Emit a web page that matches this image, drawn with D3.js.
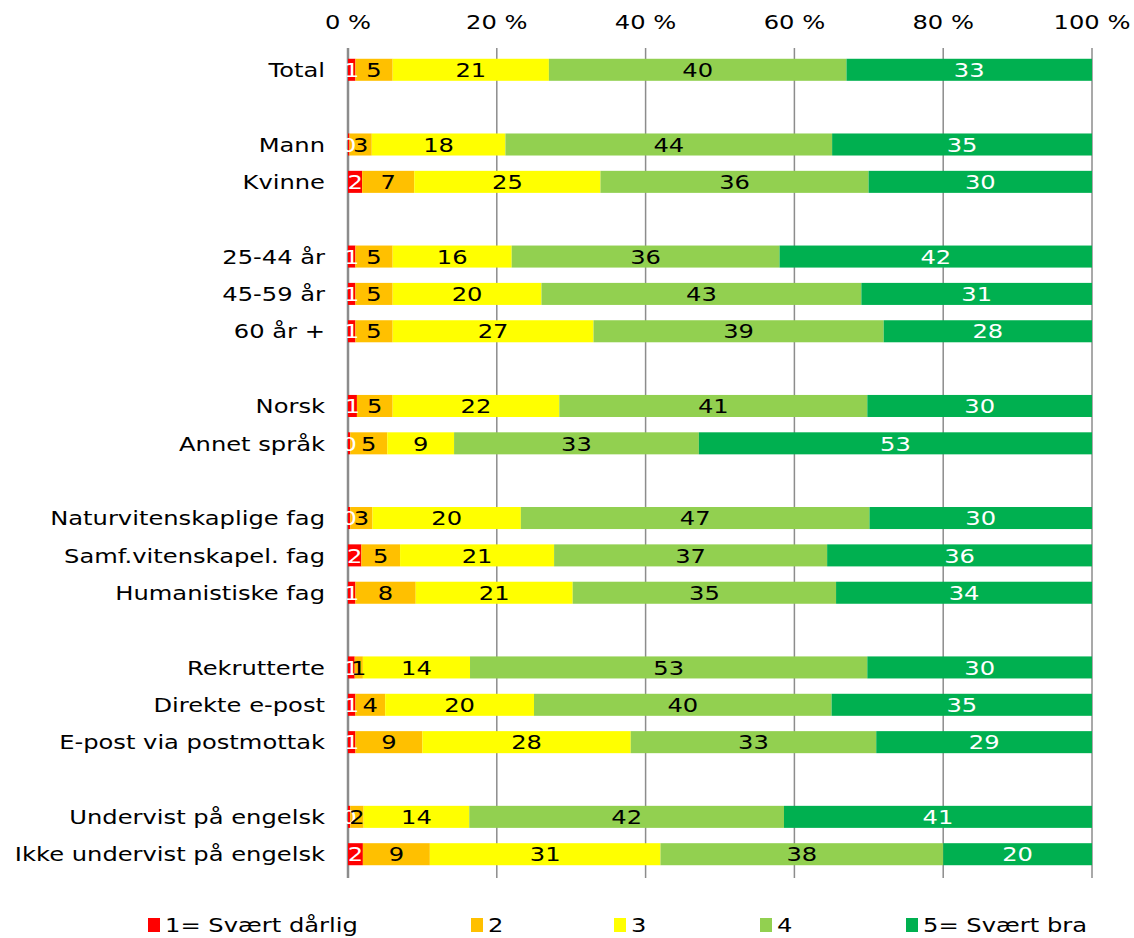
<!DOCTYPE html>
<html lang="no">
<head>
<meta charset="UTF-8">
<title>Stacked bars</title>
<script src="https://d3js.org/d3.v7.min.js"></script>
<style>
  body { margin: 0; background: #fff; font-family: "DejaVu Sans", Verdana, sans-serif; }
  text { font-family: "DejaVu Sans", Verdana, sans-serif; }
</style>
</head>
<body>
<svg id="chart" width="1134" height="938"></svg>
<script>
// Kategorier (null = tom rad mellom grupper)
const categories = [
  "Total", null,
  "Mann", "Kvinne", null,
  "25-44 år", "45-59 år", "60 år +", null,
  "Norsk", "Annet språk", null,
  "Naturvitenskaplige fag", "Samf.vitenskapel. fag", "Humanistiske fag", null,
  "Rekrutterte", "Direkte e-post", "E-post via postmottak", null,
  "Undervist på engelsk", "Ikke undervist på engelsk"
];

const seriesNames = ["1= Svært dårlig", "2", "3", "4", "5= Svært bra"];

// Prosentverdier per serie, i samme rekkefølge som de ikke-tomme kategoriene
const s1 = [1, 0.2, 1.9, 1, 1, 1, 1.2, 0.3, 0.3, 1.8, 1.0, 0.9, 1, 1, 0.3, 2];
const s2 = [5, 3, 7, 5, 5, 5, 4.8, 5, 3, 5.2, 8.1, 1.1, 4, 9, 1.8, 9];
const s3 = [21, 18, 25, 16, 20, 27, 22.4, 9, 20, 20.7, 21.1, 14.4, 20, 28, 14.2, 31];
const s4 = [40, 44, 36, 36, 43, 39, 41.4, 33, 47, 36.7, 35.4, 53.4, 40, 33, 42.3, 38];
const s5 = [33, 35, 30, 42, 31, 28, 30.2, 53, 30, 35.6, 34.4, 30.2, 35, 29, 41.4, 20];

const colors = ["#FF0000", "#FFC000", "#FFFF00", "#92D050", "#00B050"];
const labelColors = ["#fff", "#000", "#000", "#000", "#fff"];
const ticks = [0, 20, 40, 60, 80, 100];

// teksten i originalen er bredere enn DejaVu, så den strekkes litt
const stretch = 1.21;
const place = (tx, ty) => `translate(${tx},${ty}) scale(${stretch},1)`;

const svg = d3.select("#chart");
const bars = categories.filter(c => c !== null);
const series = [s1, s2, s3, s4, s5];

const rows = bars.map((name, i) => {
  const vals = series.map(s => s[i]);
  const tot = d3.sum(vals);
  let acc = 0;
  const segs = vals.map((v, k) => {
    const p = v / tot * 100;
    const seg = { k, v, x0: acc, x1: acc + p };
    acc += p;
    return seg;
  });
  return { name, segs };
});

const x = d3.scaleLinear().domain([0, 100]).range([348, 1092]);
const slots = categories.map((c, i) => c === null ? "gap" + i : c);
const y = d3.scaleBand().domain(slots).range([51.3, 872.7]).paddingInner(0.41).paddingOuter(0.2);

// rutenett
svg.append("g").selectAll("line")
  .data(ticks)
  .join("line")
  .attr("x1", d => x(d)).attr("x2", d => x(d))
  .attr("y1", 48).attr("y2", 878)
  .attr("stroke", "#8c8c8c")
  .attr("stroke-width", d => d === 0 ? 2.5 : 1.5);

// akse-etiketter øverst
svg.append("g").selectAll("text")
  .data(ticks)
  .join("text")
  .attr("transform", d => place(x(d), 29))
  .attr("text-anchor", "middle")
  .attr("font-size", 20)
  .text(d => d + " %");

// søyler
const row = svg.append("g").selectAll("g")
  .data(rows)
  .join("g")
  .attr("transform", d => `translate(0,${y(d.name)})`);

row.selectAll("rect")
  .data(d => d.segs)
  .join("rect")
  .attr("x", d => x(d.x0))
  .attr("width", d => x(d.x1) - x(d.x0))
  .attr("y", 0)
  .attr("height", y.bandwidth())
  .attr("fill", d => colors[d.k]);

row.selectAll("text.val")
  .data(d => d.segs)
  .join("text")
  .attr("class", "val")
  .attr("transform", d => place((x(d.x0) + x(d.x1)) / 2, y.bandwidth() / 2))
  .attr("dy", "0.36em")
  .attr("text-anchor", "middle")
  .attr("font-size", 20)
  .attr("fill", d => labelColors[d.k])
  .text(d => Math.round(d.v));

// kategorinavn
svg.append("g").selectAll("text")
  .data(bars)
  .join("text")
  .attr("transform", d => place(325, y(d) + y.bandwidth() / 2))
  .attr("dy", "0.36em")
  .attr("text-anchor", "end")
  .attr("font-size", 20)
  .text(d => d);

// forklaring
const legendX = [148, 471, 614, 760, 906];
const leg = svg.append("g").selectAll("g")
  .data(seriesNames)
  .join("g")
  .attr("transform", (d, i) => `translate(${legendX[i]},925)`);
leg.append("rect")
  .attr("x", 0).attr("y", -7)
  .attr("width", 12).attr("height", 14)
  .attr("fill", (d, i) => colors[i]);
leg.append("text")
  .attr("transform", place(17, 0))
  .attr("dy", "0.36em")
  .attr("font-size", 20)
  .text(d => d);
</script>
</body>
</html>
